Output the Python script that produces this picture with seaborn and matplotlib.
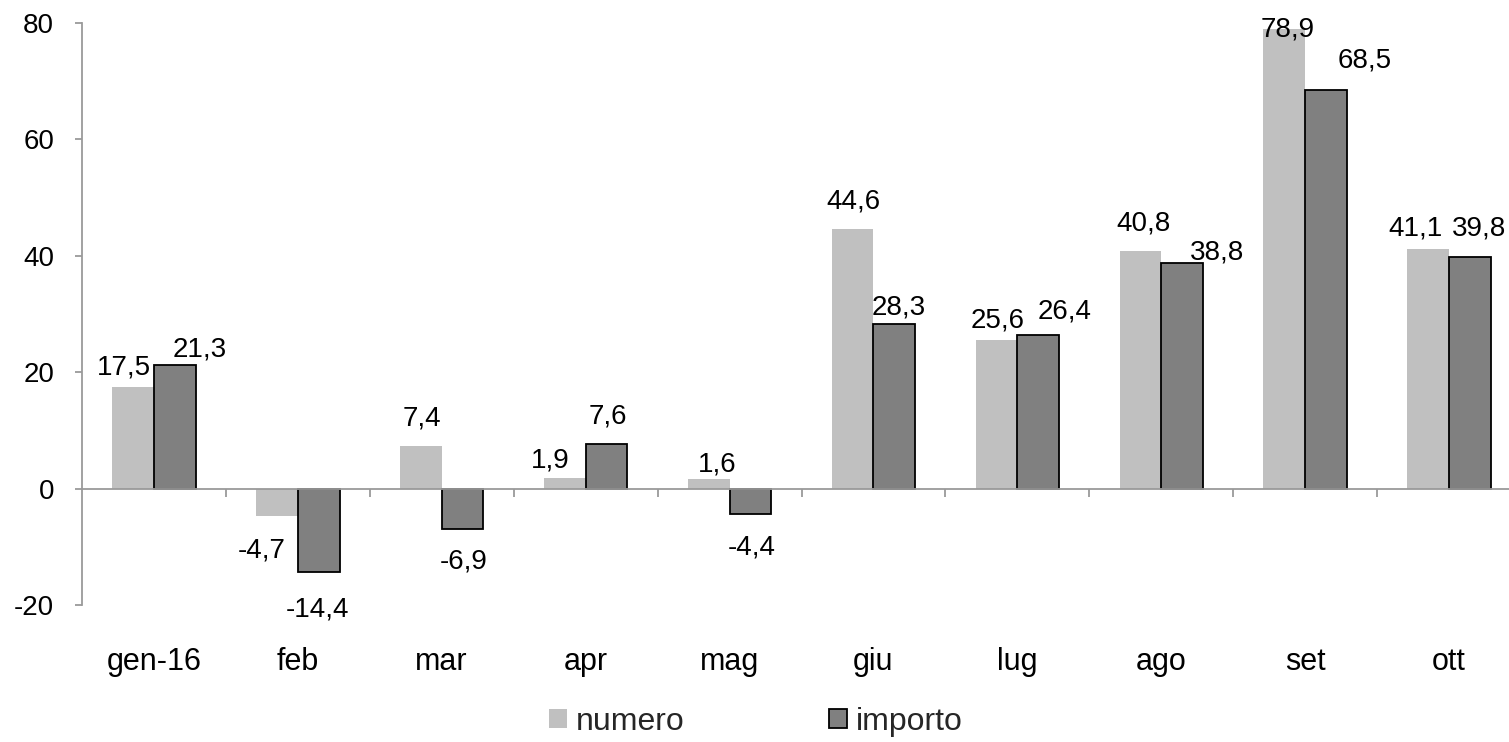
import matplotlib
matplotlib.use('Agg')
import matplotlib.pyplot as plt
import seaborn as sns
import pandas as pd
import numpy as np
from matplotlib.patches import Patch

# ---- data ----
categories = ['gen-16', 'feb', 'mar', 'apr', 'mag', 'giu', 'lug', 'ago', 'set', 'ott']
numero = [17.5, -4.7, 7.4, 1.9, 1.6, 44.6, 25.6, 40.8, 78.9, 41.1]
importo = [21.3, -14.4, -6.9, 7.6, -4.4, 28.3, 26.4, 38.8, 68.5, 39.8]
series_names = ['numero', 'importo']
y_ticks = [-20, 0, 20, 40, 60, 80]

# ---- styles ----
colors = {'numero': '#c0c0c0', 'importo': '#808080'}
axis_gray = '#9a9a9a'
# label offsets in pixels (dx right, dy down) relative to bar end
numero_off = [(-9, -19), (-15, 35), (1, -27), (-15, -17), (9, -15),
              (1, -28), (1, -19), (3, -28), (3, 0), (-13, -21)]
importo_off = [(25, -15), (-1, 37), (1, 33), (1, -28), (1, 33),
               (4, -16), (26, -23), (35, -10), (39, -29), (9, -28)]

sns.set_theme(style='white')
plt.rcParams['font.family'] = ['Liberation Sans', 'DejaVu Sans']

df = pd.DataFrame({
    'mese': categories * 2,
    'serie': [series_names[0]] * len(categories) + [series_names[1]] * len(categories),
    'valore': numero + importo,
})

fig = plt.figure(figsize=(15.09, 7.42), dpi=100)
ax = fig.add_axes([82 / 1509, 137 / 742, 1439 / 1509, 582 / 742])

sns.barplot(data=df, x='mese', y='valore', hue='serie', order=categories,
            hue_order=series_names, palette=colors, width=0.58, gap=0,
            saturation=1, errorbar=None, legend=False, ax=ax)

for p in ax.containers[0]:
    p.set_edgecolor('none')
    p.set_linewidth(0)
for p in ax.containers[1]:
    p.set_edgecolor('black')
    p.set_linewidth(1.3)

ax.set_xlim(-0.5, 9.5)
ax.set_ylim(-20, 80)
ax.set_xlabel('')
ax.set_ylabel('')

for s in ['top', 'right']:
    ax.spines[s].set_visible(False)
ax.spines['bottom'].set_position(('data', 0))
ax.spines['bottom'].set_color(axis_gray)
ax.spines['bottom'].set_linewidth(1.3)
ax.spines['left'].set_color(axis_gray)
ax.spines['left'].set_linewidth(1.3)

ax.set_yticks(y_ticks)
ax.set_yticklabels([str(v) for v in y_ticks])
ax.tick_params(axis='y', length=5, width=1.3, color=axis_gray, labelsize=20,
               pad=15, labelcolor='black', direction='out', left=True)

ax.set_xticks(range(len(categories)))
ax.set_xticklabels(categories)
ax.set_xticks(np.arange(0.5, len(categories) - 0.5, 1), minor=True)
ax.tick_params(axis='x', which='major', length=0, pad=114, labelsize=22,
               labelcolor='black', bottom=True)
ax.tick_params(axis='x', which='minor', length=6, width=1.3, color=axis_gray,
               direction='out', bottom=True)


def fmt(v):
    return f"{v:.1f}".replace('.', ',')


for cont, offs in [(ax.containers[0], numero_off), (ax.containers[1], importo_off)]:
    for p, (dx, dy) in zip(cont, offs):
        x = p.get_x() + p.get_width() / 2
        y_end = p.get_y() + p.get_height()
        ax.annotate(fmt(y_end), xy=(x, y_end), xytext=(dx, -dy),
                    textcoords='offset pixels', ha='center', va='center',
                    fontsize=20, color='black', annotation_clip=False)

handles = [Patch(facecolor=colors['numero'], edgecolor='none'),
           Patch(facecolor=colors['importo'], edgecolor='black', linewidth=1.3)]
fig.legend(handles=handles, labels=series_names, loc='center',
           bbox_to_anchor=(756 / 1509, 1 - 722 / 742), ncol=2, frameon=False,
           fontsize=23, handlelength=0.56, handleheight=0.56,
           handletextpad=0.28, columnspacing=4.5)

fig.savefig('out.png', dpi=100)
